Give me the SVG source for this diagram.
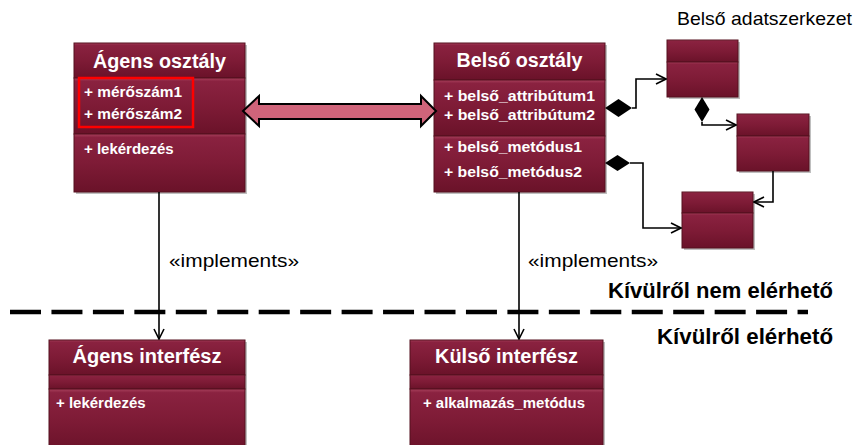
<svg xmlns="http://www.w3.org/2000/svg" width="856" height="445" viewBox="0 0 856 445">
<defs>
<linearGradient id="sec" x1="0" y1="0" x2="0" y2="1">
<stop offset="0" stop-color="#a8405c"/>
<stop offset="0.06" stop-color="#8a2240"/>
<stop offset="0.5" stop-color="#7e1b36"/>
<stop offset="1" stop-color="#6a1229"/>
</linearGradient>
<marker id="arr" viewBox="0 0 12 12" refX="11" refY="6" markerWidth="12" markerHeight="12" markerUnits="userSpaceOnUse" orient="auto">
<path d="M1,1 L11,6 L1,11" fill="none" stroke="#000" stroke-width="1.6"/>
</marker>
</defs>
<style>
.sec{fill:url(#sec);stroke:#55101f;stroke-width:1}
.sh{fill:#000;opacity:0.25}
.title{font-family:"Liberation Sans",Arial,sans-serif;font-weight:bold;font-size:20px;fill:#fff;text-anchor:middle}
.attr{font-family:"Liberation Sans",Arial,sans-serif;font-weight:bold;font-size:15px;fill:#fff}
.lbl{font-family:"Liberation Sans",Arial,sans-serif;font-size:19px;fill:#000}
.blbl{font-family:"Liberation Sans",Arial,sans-serif;font-weight:bold;font-size:22px;fill:#000}
.con{fill:none;stroke:#000;stroke-width:1.6}
.dia{fill:#000}
</style>
<rect width="856" height="445" fill="#fff"/>

<g id="agens-osztaly">
<rect class="sh" x="76" y="45" width="171" height="149"/>
<rect class="sec" x="74" y="43" width="171" height="35"/>
<rect class="sec" x="74" y="78" width="171" height="56"/>
<rect class="sec" x="74" y="134" width="171" height="58"/>
<text class="title" x="159.5" y="68" textLength="133" lengthAdjust="spacingAndGlyphs">Ágens osztály</text>
<text class="attr" x="84" y="97" textLength="98" lengthAdjust="spacingAndGlyphs">+ mérőszám1</text>
<text class="attr" x="84" y="119" textLength="98" lengthAdjust="spacingAndGlyphs">+ mérőszám2</text>
<text class="attr" x="84" y="154">+ lekérdezés</text>
<rect x="79" y="78" width="114" height="49" fill="none" stroke="#ff0000" stroke-width="2.5"/>
</g>

<g id="belso-osztaly">
<rect class="sh" x="436" y="45" width="171" height="149"/>
<rect class="sec" x="434" y="43" width="171" height="37"/>
<rect class="sec" x="434" y="80" width="171" height="56"/>
<rect class="sec" x="434" y="136" width="171" height="56"/>
<text class="title" x="519.5" y="67" textLength="126" lengthAdjust="spacingAndGlyphs">Belső osztály</text>
<text class="attr" x="444" y="101" textLength="151" lengthAdjust="spacingAndGlyphs">+ belső_attribútum1</text>
<text class="attr" x="444" y="120" textLength="151" lengthAdjust="spacingAndGlyphs">+ belső_attribútum2</text>
<text class="attr" x="444" y="152" textLength="138" lengthAdjust="spacingAndGlyphs">+ belső_metódus1</text>
<text class="attr" x="444" y="177" textLength="138" lengthAdjust="spacingAndGlyphs">+ belső_metódus2</text>
</g>

<g id="adat-a">
<rect class="sh" x="669" y="42" width="71" height="57"/>
<rect class="sec" x="667" y="40" width="71" height="22"/>
<rect class="sec" x="667" y="62" width="71" height="35"/>
</g>
<g id="adat-b">
<rect class="sh" x="739" y="116" width="72" height="57"/>
<rect class="sec" x="737" y="114" width="72" height="22"/>
<rect class="sec" x="737" y="136" width="72" height="35"/>
</g>
<g id="adat-c">
<rect class="sh" x="684" y="194" width="71" height="56"/>
<rect class="sec" x="682" y="192" width="71" height="21"/>
<rect class="sec" x="682" y="213" width="71" height="35"/>
</g>

<g id="agens-interfesz">
<rect class="sh" x="51" y="342" width="196" height="110"/>
<rect class="sec" x="49" y="340" width="196" height="35"/>
<rect class="sec" x="49" y="375" width="196" height="14"/>
<rect class="sec" x="49" y="389" width="196" height="62"/>
<text class="title" x="147" y="363" textLength="149" lengthAdjust="spacingAndGlyphs">Ágens interfész</text>
<text class="attr" x="56" y="408">+ lekérdezés</text>
</g>

<g id="kulso-interfesz">
<rect class="sh" x="412" y="342" width="193" height="110"/>
<rect class="sec" x="410" y="340" width="193" height="35"/>
<rect class="sec" x="410" y="375" width="193" height="14"/>
<rect class="sec" x="410" y="389" width="193" height="62"/>
<text class="title" x="506.5" y="363" textLength="143" lengthAdjust="spacingAndGlyphs">Külső interfész</text>
<text class="attr" x="423" y="408" textLength="162" lengthAdjust="spacingAndGlyphs">+ alkalmazás_metódus</text>
</g>

<g id="labels">
<text class="lbl" x="677" y="25" textLength="175" lengthAdjust="spacingAndGlyphs">Belső adatszerkezet</text>
<text class="lbl" x="169" y="267" textLength="130" lengthAdjust="spacingAndGlyphs">«implements»</text>
<text class="lbl" x="528" y="267" textLength="130" lengthAdjust="spacingAndGlyphs">«implements»</text>
<text class="blbl" x="608" y="298" textLength="225" lengthAdjust="spacingAndGlyphs">Kívülről nem elérhető</text>
<text class="blbl" x="657" y="344" textLength="176" lengthAdjust="spacingAndGlyphs">Kívülről elérhető</text>
</g>

<g id="connectors">
<path d="M10,312 H808" fill="none" stroke="#000" stroke-width="4.5" stroke-dasharray="31 10.45"/>
<polygon points="243,111 259,96 259,104 421,104 421,96 436,111 421,126 421,119 259,119 259,126" fill="#d0647a" stroke="#000" stroke-width="2" stroke-linejoin="miter"/>
<path class="con" d="M159,192 V339" marker-end="url(#arr)"/>
<path class="con" d="M519,192 V339" marker-end="url(#arr)"/>
<polygon class="dia" points="605,108 618.5,99 632,108 618.5,117"/>
<path class="con" d="M632,108 H636 V79 H666" marker-end="url(#arr)"/>
<polygon class="dia" points="702,97 709.5,109.5 702,122 694.5,109.5"/>
<path class="con" d="M702,122 V125 H736" marker-end="url(#arr)"/>
<path class="con" d="M773,171 V202 H754" marker-end="url(#arr)"/>
<polygon class="dia" points="605,163 617.5,155 630,163 617.5,171"/>
<path class="con" d="M630,163 H643 V228 H681" marker-end="url(#arr)"/>
</g>
</svg>
